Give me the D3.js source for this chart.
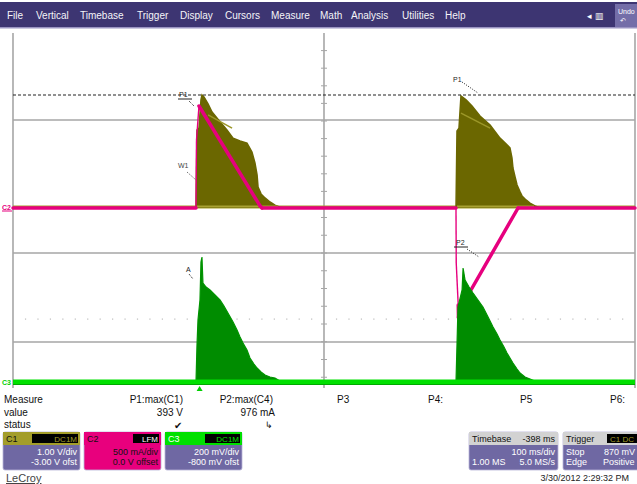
<!DOCTYPE html>
<html>
<head>
<meta charset="utf-8">
<script src="https://cdn.jsdelivr.net/npm/d3@7/dist/d3.min.js"></script>
<style>
  html, body { margin: 0; padding: 0; background: #fff; }
  svg { display: block; font-family: "Liberation Sans", Arial, sans-serif; }
</style>
</head>
<body>
<svg id="chart" width="637" height="484"></svg>
<script>
// ---------------- DATA ----------------
// time in ms (trigger at 0), C1 in V, C2 (math) in A, C3 in A
const timeDomain = [-150, 350];

const c1Pulse1 = [[-2.9,0],[-2.1,2.71],[-0.5,2.78],[1.1,3.76],[1.9,3.93],[3.5,3.86],[6.8,3.62],[10.0,3.34],
  [16.4,3.00],[22.0,2.71],[26.9,2.43],[32.5,2.33],[38.1,2.26],[42.1,1.95],[44.5,1.57],[46.2,1.15],[47.0,0.73],
  [49.4,0.49],[52.6,0.35],[56.6,0.21],[60.6,0.10],[64.6,0.03],[67.9,0]];
const c1Pulse2 = [[206.1,0],[206.9,2.68],[208.5,2.78],[210.1,3.90],[214.2,3.76],[219.0,3.55],[225.4,3.20],
  [233.5,2.89],[241.5,2.43],[246.3,2.23],[249.5,2.09],[251.1,1.74],[251.9,1.39],[253.6,1.08],[255.2,0.80],
  [257.6,0.56],[259.2,0.42],[262.4,0.28],[265.6,0.17],[269.6,0.07],[273.7,0]];
const c1Inner1 = [[6.8,3.24],[26.1,2.78]];
const c1Inner2 = [[210.1,3.30],[233.5,2.78]];

const c2Trace = [[-150,0],[-2.9,0],[-2.5,0.65],[-0.5,0.976],[48.6,0.02],[50.2,0],[206.1,0],[206.3,-0.526],
  [207.9,-0.928],[208.1,-1.05],[208.9,-0.976],[256.0,0],[350,0]];

const c3Pulse1 = [[-2.9,0],[-2.1,0.37],[-1.3,0.62],[0.3,0.82],[1.1,1.20],[1.9,1.25],[2.7,0.99],[5.2,0.95],
  [8.4,0.92],[12.4,0.87],[16.4,0.82],[19.6,0.76],[22.8,0.69],[26.9,0.60],[30.1,0.52],[32.5,0.45],[34.9,0.39],
  [38.1,0.32],[40.5,0.24],[43.7,0.18],[46.2,0.14],[49.4,0.10],[52.6,0.07],[56.6,0.05],[60.6,0.04],[64.6,0.01],[68.7,0]];
const c3Pulse2 = [[206.1,0],[206.9,0.37],[207.7,0.75],[211.0,0.92],[211.8,1.14],[213.4,1.02],[216.6,0.95],
  [219.8,0.89],[223.8,0.82],[227.8,0.75],[231.9,0.65],[235.9,0.55],[239.1,0.48],[241.5,0.42],[244.7,0.35],
  [247.1,0.29],[249.5,0.24],[251.9,0.19],[255.2,0.13],[257.6,0.09],[261.6,0.05],[265.6,0.03],[269.6,0.01],[273.7,0]];

const cursorLevelC1 = 3.93;

const menuItems = ["File","Vertical","Timebase","Trigger","Display","Cursors","Measure","Math","Analysis","Utilities","Help"];
const measureRows = ["Measure","value","status"];
const measureParams = ["P1:max(C1)","P2:max(C4)","P3","P4:","P5","P6:"];
const measureValues = ["393 V","976 mA"];

const chanBoxes = [
  {name:"C1", tag:"DC1M", l1:"1.00 V/div", l2:"-3.00 V ofst"},
  {name:"C2", tag:"LFM",  l1:"500 mA/div", l2:"0.0 V offset"},
  {name:"C3", tag:"DC1M", l1:"200 mV/div", l2:"-800 mV ofst"}
];
const tbBox = {title:"Timebase", val:"-398 ms", l1:"100 ms/div", l2a:"1.00 MS", l2b:"5.0 MS/s"};
const trigBox = {title:"Trigger", val:"C1 DC", l1a:"Stop", l1b:"870 mV", l2a:"Edge", l2b:"Positive"};
const dateText = "3/30/2012 2:29:32 PM";

// ---------------- DRAW ----------------
const svg = d3.select("#chart");
const W = 637, H = 484;
svg.append("rect").attr("width", W).attr("height", H).attr("fill", "#fff");

const x = d3.scaleLinear().domain(timeDomain).range([13, 635]);
const yC1 = d3.scaleLinear().domain([0, 3.93]).range([208, 95]);
const yC2 = d3.scaleLinear().domain([0, 0.976]).range([208, 106]);
const yC3 = d3.scaleLinear().domain([0, 1]).range([382, 282]);

// Menu bar
svg.append("rect").attr("x",0).attr("y",2).attr("width",W).attr("height",25).attr("fill","#3d3572");
svg.append("rect").attr("x",0).attr("y",27).attr("width",W).attr("height",1.5).attr("fill","#9a94c2");
const menuX = [7,36,80,137,180,225,271,320,351,402,445];
svg.selectAll("text.menu").data(menuItems).enter().append("text")
  .attr("class","menu").attr("x",(d,i)=>menuX[i]).attr("y",19)
  .attr("fill","#f4f4f8").attr("font-size",10).text(d=>d);
svg.append("text").attr("x",587).attr("y",19).attr("fill","#fff").attr("font-size",9).text("◂ ▥");
svg.append("rect").attr("x",615).attr("y",4).attr("width",22).attr("height",23).attr("fill","#746ea8");
svg.append("text").attr("x",618).attr("y",14).attr("fill","#fff").attr("font-size",7).text("Undo");
svg.append("text").attr("x",620).attr("y",23).attr("fill","#fff").attr("font-size",7).text("↶");

// Grid
const grid = svg.append("g").attr("stroke","#a6a6a6").attr("stroke-width",1.6);
[13, 324, 635].forEach(gx => grid.append("line").attr("x1",gx).attr("x2",gx).attr("y1",33).attr("y2",388));
[120, 253, 342].forEach(gy => grid.append("line").attr("x1",13).attr("x2",635).attr("y1",gy).attr("y2",gy));
const ticks = svg.append("g").attr("stroke","#a6a6a6").attr("stroke-width",1);
d3.range(1,10).map(k=>33+17.6*k).concat(d3.range(-2,8).map(k=>253+17.75*k)).forEach(ty=>{
  ticks.append("line").attr("x1",321).attr("x2",327).attr("y1",ty).attr("y2",ty);
});
const dots = svg.append("g").attr("fill","#bcbcbc");
d3.range(1,50).map(k=>13+12.44*k).forEach(dx=>{
  if (Math.abs(dx-324) > 3) dots.append("rect").attr("x",dx-0.5).attr("y",318.5).attr("width",1.2).attr("height",1.2);
});

// C1 (olive) pulses
const areaC1 = d3.area().x(d=>x(d[0])).y0(yC1(0)).y1(d=>yC1(d[1]));
const lineC1 = d3.line().x(d=>x(d[0])).y(d=>yC1(d[1]));
svg.append("line").attr("x1",x(timeDomain[0])).attr("x2",x(timeDomain[1])).attr("y1",yC1(0)-1).attr("y2",yC1(0)-1)
  .attr("stroke","#a39e2a").attr("stroke-width",3);
[c1Pulse1, c1Pulse2].forEach(p=>{
  svg.append("path").datum(p).attr("d",areaC1).attr("fill","#6b6700");
  svg.append("path").datum(p).attr("d",lineC1).attr("fill","none").attr("stroke","#6b6700").attr("stroke-width",1.5);
  svg.append("line").attr("x1",x(p[0][0])+1).attr("x2",x(p[p.length-1][0])-6)
    .attr("y1",yC1(0)-1.5).attr("y2",yC1(0)-1.5).attr("stroke","#a8a232").attr("stroke-width",2);
});
[c1Inner1, c1Inner2].forEach(p=>{
  svg.append("path").datum(p).attr("d",lineC1).attr("fill","none").attr("stroke","#9c9728").attr("stroke-width",1.5);
});

// Cursor dashed level
svg.append("line").attr("x1",13).attr("x2",635).attr("y1",yC1(cursorLevelC1)).attr("y2",yC1(cursorLevelC1))
  .attr("stroke","#222").attr("stroke-width",1.2).attr("stroke-dasharray","3,2");

// C2 (pink) math trace: fast (near-vertical) transitions drawn thin, the rest thick
const segs = d3.pairs(c2Trace).map(([a,b])=>{
  const dx = Math.abs(x(b[0])-x(a[0])), dy = Math.abs(yC2(b[1])-yC2(a[1]));
  return {a, b, steep: dy > 20 && dy > 8*dx};
});
svg.append("g").selectAll("line").data(segs.filter(s=>s.steep)).enter().append("line")
  .attr("x1",s=>x(s.a[0])).attr("y1",s=>yC2(s.a[1])).attr("x2",s=>x(s.b[0])).attr("y2",s=>yC2(s.b[1]))
  .attr("stroke","#e6007e").attr("stroke-width",1.4);
svg.append("g").selectAll("line").data(segs.filter(s=>!s.steep)).enter().append("line")
  .attr("x1",s=>x(s.a[0])).attr("y1",s=>yC2(s.a[1])).attr("x2",s=>x(s.b[0])).attr("y2",s=>yC2(s.b[1]))
  .attr("stroke","#e6007e").attr("stroke-width",3.5).attr("stroke-linecap","round");

// C3 (green) pulses
const areaC3 = d3.area().x(d=>x(d[0])).y0(yC3(0)).y1(d=>yC3(d[1]));
const lineC3 = d3.line().x(d=>x(d[0])).y(d=>yC3(d[1]));
[c3Pulse1, c3Pulse2].forEach(p=>{
  svg.append("path").datum(p).attr("d",areaC3).attr("fill","#008c00");
  svg.append("path").datum(p).attr("d",lineC3).attr("fill","none").attr("stroke","#009400").attr("stroke-width",1.2);
});
svg.append("line").attr("x1",x(timeDomain[0])).attr("x2",x(timeDomain[1])).attr("y1",yC3(0)).attr("y2",yC3(0))
  .attr("stroke","#00e000").attr("stroke-width",5);
svg.append("line").attr("x1",x(timeDomain[0])).attr("x2",x(timeDomain[1])).attr("y1",yC3(0)+2.5).attr("y2",yC3(0)+2.5)
  .attr("stroke","#00a800").attr("stroke-width",1);

// channel markers on left
svg.append("text").attr("x",2).attr("y",210).attr("fill","#e6007e").attr("font-size",7).attr("font-weight","bold").text("C2");
svg.append("line").attr("x1",2).attr("x2",12).attr("y1",211).attr("y2",211).attr("stroke","#e6007e").attr("stroke-width",1);
svg.append("text").attr("x",2).attr("y",385).attr("fill","#00d000").attr("font-size",7).attr("font-weight","bold").text("C3");
svg.append("path").attr("d",`M${x(0)-3},391 L${x(0)+3},391 L${x(0)},386 Z`).attr("fill","#00d000");

// measurement markers
const ann = svg.append("g").attr("fill","#222").attr("font-size",7);
ann.append("text").attr("x",179).attr("y",97).text("P1");
ann.append("line").attr("x1",178).attr("x2",192).attr("y1",99).attr("y2",99).attr("stroke","#222");
ann.append("line").attr("x1",189).attr("x2",194).attr("y1",101).attr("y2",106).attr("stroke","#222").attr("stroke-dasharray","1,1");
ann.append("text").attr("x",178).attr("y",168).attr("fill","#444").text("W1");
ann.append("line").attr("x1",187).attr("x2",196).attr("y1",172).attr("y2",180).attr("stroke","#444").attr("stroke-dasharray","1,1.5");
ann.append("text").attr("x",453).attr("y",82).text("P1");
ann.append("line").attr("x1",462).attr("x2",478).attr("y1",82).attr("y2",93).attr("stroke","#222").attr("stroke-dasharray","1,1.5");
ann.append("text").attr("x",186).attr("y",272).text("A");
ann.append("line").attr("x1",189).attr("x2",193).attr("y1",274).attr("y2",279).attr("stroke","#222").attr("stroke-dasharray","1,1");
ann.append("text").attr("x",456).attr("y",245).text("P2");
ann.append("line").attr("x1",454).attr("x2",468).attr("y1",247).attr("y2",247).attr("stroke","#222");
ann.append("line").attr("x1",467).attr("x2",479).attr("y1",249).attr("y2",257).attr("stroke","#222").attr("stroke-dasharray","1,1.5");

// Measure table
const rowY = [403, 416, 428];
svg.selectAll("text.mrow").data(measureRows).enter().append("text").attr("class","mrow")
  .attr("x",4).attr("y",(d,i)=>rowY[i]).attr("font-size",10).attr("fill","#111").text(d=>d);
const paramX = [{x:183,a:"end"},{x:273,a:"end"},{x:337,a:"start"},{x:428,a:"start"},{x:520,a:"start"},{x:610,a:"start"}];
svg.selectAll("text.mpar").data(measureParams).enter().append("text").attr("class","mpar")
  .attr("x",(d,i)=>paramX[i].x).attr("text-anchor",(d,i)=>paramX[i].a).attr("y",rowY[0])
  .attr("font-size",10).attr("fill","#111").text(d=>d);
const valX = [183, 275];
svg.selectAll("text.mval").data(measureValues).enter().append("text").attr("class","mval")
  .attr("x",(d,i)=>valX[i]).attr("text-anchor","end").attr("y",rowY[1])
  .attr("font-size",10).attr("fill","#111").text(d=>d);
svg.append("text").attr("x",178).attr("y",429).attr("text-anchor","middle").attr("font-size",10).attr("fill","#111").text("✔");
svg.append("text").attr("x",269).attr("y",428).attr("text-anchor","middle").attr("font-size",9).attr("fill","#111").text("↳");

// Channel boxes
const boxX = [3, 84, 165];
const headCol = ["#a39d2a", "#e8007d", "#00e000"];
const bodyCol = ["#6f68a3", "#e8007d", "#6f68a3"];
const textCol = ["#fff", "#111", "#fff"];
chanBoxes.forEach((b,i)=>{
  const g = svg.append("g").attr("transform",`translate(${boxX[i]},432)`);
  g.append("rect").attr("width",77).attr("height",38).attr("rx",2).attr("fill",bodyCol[i]).attr("stroke","#b8b4d8").attr("stroke-width",0.8);
  g.append("rect").attr("width",77).attr("height",13).attr("fill",headCol[i]);
  g.append("text").attr("x",3).attr("y",10).attr("font-size",9).attr("fill",i==2?"#fff":"#111").text(b.name);
  const tw = i==1 ? 26 : (i==0 ? 46 : 35);
  g.append("rect").attr("x",75-tw).attr("y",2).attr("width",tw).attr("height",9).attr("fill","#000");
  g.append("text").attr("x",74).attr("y",10).attr("text-anchor","end").attr("font-size",8)
    .attr("fill",i==1?"#fff":headCol[i]).text(b.tag);
  g.append("text").attr("x",74).attr("y",23).attr("text-anchor","end").attr("font-size",9).attr("fill",textCol[i]).text(b.l1);
  g.append("text").attr("x",74).attr("y",33).attr("text-anchor","end").attr("font-size",9).attr("fill",textCol[i]).text(b.l2);
});

// Timebase box
(function(){
  const g = svg.append("g").attr("transform","translate(469,432)");
  g.append("rect").attr("width",89).attr("height",38).attr("rx",2).attr("fill","#6f68a3").attr("stroke","#b8b4d8").attr("stroke-width",0.8);
  g.append("rect").attr("width",89).attr("height",13).attr("fill","#d2d2d2");
  g.append("text").attr("x",3).attr("y",10).attr("font-size",9).attr("fill","#111").text(tbBox.title);
  g.append("text").attr("x",86).attr("y",10).attr("text-anchor","end").attr("font-size",9).attr("fill","#111").text(tbBox.val);
  g.append("text").attr("x",86).attr("y",23).attr("text-anchor","end").attr("font-size",9).attr("fill","#fff").text(tbBox.l1);
  g.append("text").attr("x",3).attr("y",33).attr("font-size",9).attr("fill","#fff").text(tbBox.l2a);
  g.append("text").attr("x",86).attr("y",33).attr("text-anchor","end").attr("font-size",9).attr("fill","#fff").text(tbBox.l2b);
})();
// Trigger box
(function(){
  const g = svg.append("g").attr("transform","translate(563,432)");
  g.append("rect").attr("width",80).attr("height",38).attr("rx",2).attr("fill","#6f68a3").attr("stroke","#b8b4d8").attr("stroke-width",0.8);
  g.append("rect").attr("width",80).attr("height",13).attr("fill","#d2d2d2");
  g.append("text").attr("x",3).attr("y",10).attr("font-size",9).attr("fill","#111").text(trigBox.title);
  g.append("rect").attr("x",44).attr("y",2).attr("width",36).attr("height",9).attr("fill","#000");
  g.append("text").attr("x",47).attr("y",10).attr("font-size",8).attr("fill","#a39d2a").text(trigBox.val);
  g.append("text").attr("x",3).attr("y",23).attr("font-size",9).attr("fill","#fff").text(trigBox.l1a);
  g.append("text").attr("x",72).attr("y",23).attr("text-anchor","end").attr("font-size",9).attr("fill","#fff").text(trigBox.l1b);
  g.append("text").attr("x",3).attr("y",33).attr("font-size",9).attr("fill","#fff").text(trigBox.l2a);
  g.append("text").attr("x",40).attr("y",33).attr("font-size",9).attr("fill","#fff").text(trigBox.l2b);
})();

// Footer
svg.append("text").attr("x",6).attr("y",482).attr("font-size",11).attr("fill","#444")
  .attr("text-decoration","underline").text("LeCroy");
svg.append("text").attr("x",629).attr("y",481).attr("text-anchor","end").attr("font-size",9).attr("fill","#222").text(dateText);
</script>
</body>
</html>
